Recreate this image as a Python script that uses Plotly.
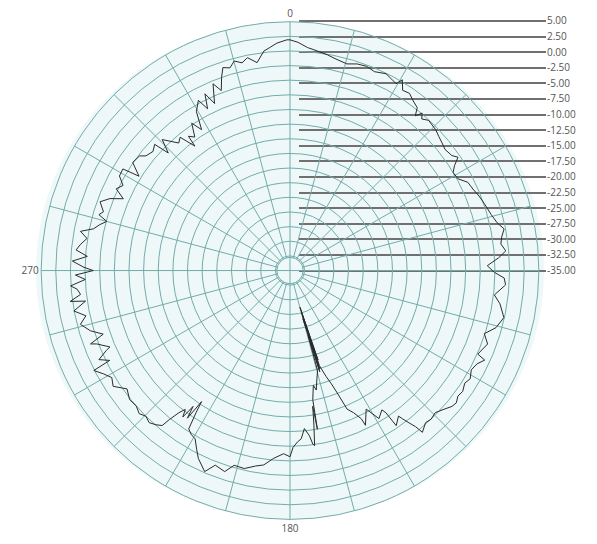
import numpy as np
import plotly.graph_objects as go

# Measured pattern: bearing (deg, clockwise from north) and relative level (dB)
bearing_deg = [
    0, 2, 4.5, 7, 9.8, 12, 15.4, 18, 20.6, 23, 26, 28, 29.6, 30.5, 32, 34, 36, 38, 39, 40,
    41, 42.7, 46, 48, 50, 52, 54.6, 56, 57.5, 59, 61.4, 63.6, 66, 68.5, 71, 74.4, 77, 79, 81, 82.8,
    84.8, 86.5, 88.6, 90.5, 92, 93.8, 96.8, 99, 102.4, 105.5, 108, 110.4, 114, 114.7, 116.5, 118.7,
    121, 122.8, 125, 126.8, 128.5, 130, 132, 134.4, 136.5, 138.3, 140.7, 141.2, 142, 142.8, 143.3,
    145.6, 146, 146.6, 149, 150, 151.2, 154, 154.3, 155.9, 157.6, 158.9, 160, 161.2, 162.8,
    164.8, 162.6, 164.6, 163.2, 164.9, 163.6, 164.4, 164.6, 166, 167.6, 168.5, 170, 170.2, 170.5, 171.2,
    172, 172.5, 173.3, 174.8, 176.2, 177.5, 179, 180, 182, 185, 187.7, 190, 193, 196, 198, 201, 203,
    206, 207.5, 209.4, 211, 212.6, 213.5, 214, 214.8, 215.5, 216.2, 217, 218, 219, 219.5, 221, 222.8,
    224.7, 226.5, 228.6, 231.2, 234, 236.8, 239, 241, 243, 243.5, 245, 246.5, 247, 249.2, 249.8,
    251.2, 253.2, 255.6, 257.5, 259.4, 261.5, 262, 263.5, 265, 266, 267.5, 268.8, 270, 270.9, 272.5,
    274, 275.5, 277, 279, 280.6, 282, 283.6, 285, 286.3, 287.5, 289.9, 291.8, 293.3, 295.2, 297, 299,
    301.3, 302, 304.5, 307.3, 308.5, 311, 313, 314, 315.7, 318.9, 320.5, 322.6, 322.9, 324.5, 326.3,
    327.9, 329.5, 331.7, 333, 334.3, 335.7, 337.6, 339.1, 340.5, 341.7, 343.5, 345.1, 347, 348.7,
    351, 353.2, 355, 356.7, 359.2, 360,
]
level_db = [
    1.9, 1.5, 0.7, 0.3, -0.1, -0.5, -0.9, -0.4, -0.25, -0.6, -0.1, -0.5, -0.8, 0.3, -1.2, -1.0, -1.7, -2.2, -3.5, -2.4,
    -3.2, -2.6, -2.9, -3.3, -3.6, -3.9, -3.6, -2.9, -4.2, -5.0, -4.8, -3.6, -3.3, -2.8, -2.4, -1.85, -1.2, -0.25, -0.9, -1.2,
    -0.5, -1.8, -3.8, -2.6, -0.9, -0.6, -2.35, -1.2, -0.1, -1.0, -2.6, -1.5, -2.4, -0.9, -1.8, -2.2,
    -1.6, -2.0, -1.5, -1.7, -1.2, -1.4, -2.1, -2.8, -2.5, -2.7, -1.8, -3.3, -4.5, -5.7, -6.5,
    -5.4, -8.2, -9.0, -8.0, -9.2, -10.5, -8.1, -9.4, -10.9, -11.9, -15.1, -17.0, -18.4, -20.5,
    -31.0, -21.5, -30.0, -20.0, -29.0, -19.5, -26.0, -19.75, -18.5, -16.6, -17.5, -15.1, -10.0, -14.0, -10.8,
    -7.3, -7.6, -9.1, -10.4, -8.7, -8.2, -7.3, -5.7, -6.2, -5.3, -4.0, -3.6, -2.8, -2.9, -1.4, -1.9, -0.2,
    -1.8, -3.0, -4.5, -4.8, -5.4, -8.5, -10.5, -6.8, -9.0, -6.5, -7.8, -6.7, -4.75, -3.2, -2.6, -2.1,
    -2.5, -2.0, -2.5, -2.35, -3.1, -1.4, -2.0, -1.1, 0.1, -3.1, -1.5, -3.3, -4.1, -2.2, -1.2,
    -3.8, -1.9, -0.55, -1.8, 0.05, -2.2, 0.4, -1.5, -1.0, 0.05, -2.5, -0.85, -3.9, -2.3, -0.3,
    -2.8, -0.8, -1.4, -2.4, -1.1, -3.2, -4.1, -5.1, -3.5, -4.1, -3.0, -4.4, -6.5, -4.7, -5.5, -4.2,
    -4.1, -7.1, -4.9, -5.2, -6.05, -6.5, -5.9, -8.6, -6.25, -8.6, -8.0, -10.75, -8.75, -9.5, -7.25,
    -9.1, -6.0, -4.5, -6.5, -4.0, -6.2, -3.0, -4.6, -2.5, -1.0, -1.4, -0.47, -1.1, -0.42,
    -1.55, 0.24, 0.8, 1.4, 1.9, 1.9,
]
assert len(bearing_deg) == len(level_db)

# Scale definition
r_min, r_max, r_step = -35.0, 5.0, 2.5
level_ticks = list(np.arange(r_min, r_max + 0.001, r_step))
level_labels = [f"{v:.2f}" for v in level_ticks]
bearing_ticks = list(range(0, 360, 15))
bearing_labels = [str(b) if b in (0, 180, 270) else "" for b in bearing_ticks]

W, H = 597, 544
GRID = "#74abab"
TEXT = "#555555"
FONT = "Open Sans, DejaVu Sans, sans-serif"

# polar area (pixels): centre (290, 270), radius 254
cx, cy, R = 290, 270, 254
n_rings = int(round((r_max - r_min) / r_step)) + 1
ring_px = R / n_rings                       # innermost ring sits one step from centre
px_per_db = ring_px / r_step
r_lo = r_min - 0.25                         # a bit below the innermost ring so it gets drawn
hole_px = ring_px - 0.25 * px_per_db
hole = hole_px / R
px_x = lambda p: p / W
px_y = lambda p: 1 - p / H

fig = go.Figure()

fig.add_trace(go.Scatterpolar(
    r=level_db, theta=bearing_deg, mode="lines",
    line=dict(color="#2b2b2b", width=1),
    hoverinfo="r+theta", showlegend=False,
))

# empty cartesian trace so the level scale on the right is rendered
fig.add_trace(go.Scatter(x=[None], y=[None], xaxis="x", yaxis="y",
                         showlegend=False, hoverinfo="skip"))

pad = 0.2
lab_top, lab_bot = 15.3, 270.0
ppu = (lab_bot - lab_top) / (r_max - r_min)

shapes = [
    # tinted plot disc
    dict(type="circle", xref="paper", yref="paper", layer="below",
         x0=px_x(cx - R), x1=px_x(cx + R), y0=px_y(cy + R), y1=px_y(cy - R),
         fillcolor="#eef8f8", line=dict(width=0)),
    # main cross through the centre circle
    dict(type="line", xref="paper", yref="paper", layer="above",
         x0=px_x(cx - hole_px), x1=px_x(cx + hole_px), y0=px_y(cy), y1=px_y(cy),
         line=dict(color=GRID, width=1)),
    dict(type="line", xref="paper", yref="paper", layer="above",
         x0=px_x(cx), x1=px_x(cx), y0=px_y(cy - hole_px), y1=px_y(cy + hole_px),
         line=dict(color=GRID, width=1)),
]

fig.update_layout(
    width=W, height=H,
    margin=dict(l=0, r=0, t=0, b=0),
    paper_bgcolor="white",
    plot_bgcolor="rgba(0,0,0,0)",
    font=dict(family=FONT, size=10, color=TEXT),
    shapes=shapes,
    polar=dict(
        domain=dict(x=[px_x(cx - R), px_x(cx + R)], y=[px_y(cy + R), px_y(cy - R)]),
        bgcolor="rgba(0,0,0,0)",
        hole=hole,
        radialaxis=dict(
            range=[r_lo, r_max], tickvals=level_ticks, showticklabels=False,
            ticks="", showline=False, gridcolor=GRID, gridwidth=1,
        ),
        angularaxis=dict(
            direction="clockwise", rotation=90,
            tickvals=bearing_ticks, ticktext=bearing_labels, ticks="",
            showline=True, linecolor=GRID, linewidth=1,
            gridcolor=GRID, gridwidth=1,
            tickfont=dict(size=10, color=TEXT),
        ),
    ),
    xaxis=dict(
        domain=[px_x(299), px_x(546)], range=[0, 1], visible=False,
        fixedrange=True,
    ),
    yaxis=dict(
        domain=[px_y(lab_bot + pad * ppu), px_y(lab_top - pad * ppu)],
        range=[r_min - pad, r_max + pad], anchor="x", side="right",
        tickvals=level_ticks, ticktext=level_labels, ticks="",
        showline=False, zeroline=False, showgrid=True,
        gridcolor="#707070", gridwidth=2,
        tickfont=dict(size=10, color=TEXT), fixedrange=True,
    ),
)

fig.write_html("out.html")
